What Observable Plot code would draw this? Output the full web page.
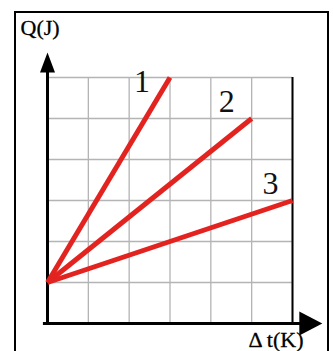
<!DOCTYPE html>
<html>
<head>
<meta charset="utf-8">
<script src="https://cdn.jsdelivr.net/npm/d3@7"></script>
<script src="https://cdn.jsdelivr.net/npm/@observablehq/plot@0.6"></script>
<style>
  html, body { margin: 0; padding: 0; background: #fff; }
  body { width: 333px; height: 351px; position: relative; overflow: hidden; }
  #frame { position: absolute; left: 14px; top: 11px; width: 311px; height: 400px;
           border: 2px solid #000; border-bottom: none; }
  #chart { position: absolute; left: 0; top: 0; }
  #chart svg { background: transparent; }
</style>
</head>
<body>
<div id="frame"></div>
<div id="chart"></div>
<script>
// Heat Q absorbed versus temperature change Δt for three bodies
const seriesNames = ["1", "2", "3"];
const dtStart = [0, 0, 0];
const qStart = [1, 1, 1];
const dtEnd = [3, 5, 6];
const qEnd = [6, 5, 3];
const gridTicks = [0, 1, 2, 3, 4, 5, 6];
const yTitle = "Q(J)";
const xTitle = "Δ t(K)";

const series = seriesNames.map((name, i) => ({
  name, x1: dtStart[i], y1: qStart[i], x2: dtEnd[i], y2: qEnd[i]
}));

// filled arrowheads whose tip sits on the anchor point
const arrowUp = {draw(ctx) { ctx.moveTo(0, 0); ctx.lineTo(-7.5, 20); ctx.lineTo(7.5, 20); ctx.closePath(); }};
const arrowRight = {draw(ctx) { ctx.moveTo(0, 0); ctx.lineTo(-23, -12); ctx.lineTo(-23, 12); ctx.closePath(); }};

// label offsets from each line's end point, in pixels
const labelOffset = [[-28, 4], [-25, -17], [-22, -17]];
const serif = "'Liberation Serif', 'Times New Roman', serif";

const chart = Plot.plot({
  width: 333,
  height: 351,
  marginLeft: 47,
  marginRight: 41,
  marginTop: 77,
  marginBottom: 28,
  x: {domain: [0, 6], axis: null},
  y: {domain: [0, 6], axis: null},
  style: {background: "transparent", overflow: "visible"},
  marks: [
    Plot.gridX(gridTicks, {stroke: "#b4b4b4", strokeOpacity: 1, strokeWidth: 1.3}),
    Plot.gridY(gridTicks, {stroke: "#b4b4b4", strokeOpacity: 1, strokeWidth: 1.3}),
    Plot.ruleX([6], {y1: 0, y2: 6, stroke: "#000", strokeWidth: 2}),
    Plot.ruleY([0], {x1: -0.1, x2: 6.2, stroke: "#000", strokeWidth: 3}),
    Plot.ruleX([0], {y1: -0.03, y2: 6.2, stroke: "#000", strokeWidth: 3}),
    Plot.dot([0], {x: 0, y: 6.61, symbol: arrowUp, fill: "#000", stroke: null}),
    Plot.dot([0], {x: 6.73, y: 0, symbol: arrowRight, fill: "#000", stroke: null}),
    Plot.link(series, {x1: "x1", y1: "y1", x2: "x2", y2: "y2",
      stroke: "#e2231f", strokeWidth: 5, strokeLinecap: "butt"}),
    ...series.map((d, i) => Plot.text([d], {x: "x2", y: "y2", text: "name",
      dx: labelOffset[i][0], dy: labelOffset[i][1],
      fontFamily: serif, fontSize: 32, fill: "#111"})),
    Plot.text([yTitle], {frameAnchor: "top-left", textAnchor: "start", lineAnchor: "bottom",
      dx: -27, dy: -43, fontFamily: serif, fontSize: 22, fill: "#000",
      stroke: "#000", strokeWidth: 0.3}),
    Plot.text([xTitle], {frameAnchor: "bottom-right", textAnchor: "end", lineAnchor: "bottom",
      dx: 11, dy: 23, fontFamily: serif, fontSize: 22, fill: "#000",
      stroke: "#000", strokeWidth: 0.3})
  ]
});
document.getElementById("chart").append(chart);
</script>
</body>
</html>
